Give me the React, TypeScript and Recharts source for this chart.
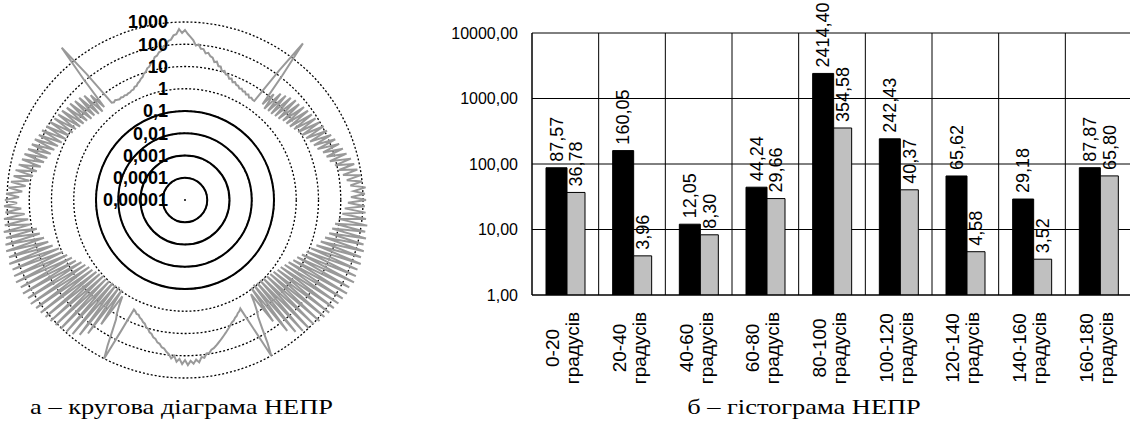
import React from 'react';
import {
  RadarChart, PolarGrid, PolarAngleAxis, PolarRadiusAxis, Radar,
  BarChart, Bar, XAxis, YAxis, CartesianGrid, LabelList,
} from 'recharts';

// НЕПР по колу, одне значення на градус (0° праворуч, далі проти годинникової стрілки)
const nepr: number[] = [
  289, 1230, 394, 1364, 289, 1000, 212, 902, 155, 733,
  114, 596, 83, 485, 55, 356, 45, 289, 36.5, 235,
  24, 191, 19.6, 155, 16, 126, 13, 114, 10.5, 92,
  8.6, 83, 7.0, 75, 5.7, 68, 5.1, 61, 4.6, 50,
  3.7, 50, 3.4, 40.5, 3.0, 33, 3.0, 26.7, 2.7, 16,
  3.4, 126, 6400, 155, 2.7, 2.7, 3.0, 2.7, 3.4, 3.0,
  3.7, 3.4, 4.1, 3.7, 4.6, 4.6, 5.7, 5.1, 7.0, 6.3,
  8.6, 8.6, 11.7, 10.5, 16, 16, 24, 21.7, 33, 36.5,
  50, 45, 68, 68, 103, 92, 155, 212, 289, 437,
  320, 485, 289, 261, 172, 155, 103, 92, 61, 55,
  40.5, 36.5, 24, 21.7, 16, 14.4, 10.5, 9.5, 7.0, 6.3,
  5.1, 4.6, 3.7, 3.7, 3.0, 3.0, 2.7, 2.7, 2.5, 2.7,
  2.5, 2.7, 2.5, 2.7, 3.0, 2.7, 3.0, 155, 6400, 126,
  3.4, 21.7, 2.7, 33, 3.0, 40.5, 3.7, 45, 3.7, 55,
  4.6, 55, 5.1, 68, 5.7, 75, 7.0, 83, 7.7, 103,
  9.5, 114, 10.5, 140, 13, 155, 16, 191, 19.6, 212,
  24, 261, 29.6, 320, 36.5, 356, 45, 437, 61, 537,
  83, 596, 114, 733, 155, 902, 212, 1109, 289, 1230,
  356, 1364, 235, 1230, 172, 1513, 126, 1513, 103, 1862,
  61, 1678, 50, 2065, 36.5, 2290, 26.7, 2065, 19.6, 2540,
  11.7, 2290, 9.5, 2540, 7.0, 2816, 5.1, 2290, 4.1, 2540,
  2.7, 2065, 2.2, 2290, 1.8, 1862, 1.64, 1678, 1.33, 1513,
  1.2, 1364, 1.08, 1230, 1.08, 1109, 0.97, 902, 0.88, 733,
  0.88, 485, 0.79, 261, 0.88, 55, 1.48, 3.7, 8.6, 16,
  55, 261, 1000, 33, 2.7, 3.0, 3.7, 3.7, 4.6, 5.1,
  6.3, 7.0, 9.5, 10.5, 14.4, 16, 21.7, 24, 33, 36.5,
  50, 55, 75, 92, 140, 103, 191, 140, 235, 155,
  261, 172, 235, 155, 212, 126, 140, 92, 92, 68,
  61, 50, 40.5, 33, 26.7, 21.7, 17.7, 14.4, 11.7, 9.5,
  7.7, 7.0, 5.7, 5.1, 4.1, 3.7, 3.0, 33, 1000, 261,
  55, 16, 8.6, 3.7, 1.48, 55, 0.88, 289, 0.79, 537,
  0.88, 813, 0.88, 1000, 0.97, 1109, 1.08, 1364, 1.2, 1513,
  1.33, 1678, 1.64, 1862, 1.8, 2065, 2.2, 2290, 2.7, 2540,
  3.7, 2290, 4.6, 2816, 6.3, 2540, 8.6, 2290, 11.7, 2540,
  17.7, 2065, 24, 2290, 33, 1862, 45, 2065, 55, 1678,
  68, 1862, 92, 1513, 126, 1364, 155, 1230, 212, 1364,
];

// гістограма
const angleRanges = ['0-20', '20-40', '40-60', '60-80', '80-100', '100-120', '120-140', '140-160', '160-180'];
const unit = 'градусів';
const seriesA = [87.57, 160.05, 12.05, 44.24, 2414.40, 242.43, 65.62, 29.18, 87.87];
const seriesB = [36.78, 3.96, 8.30, 29.66, 354.58, 40.37, 4.58, 3.52, 65.80];
const yTicks = [1, 10, 100, 1000, 10000];

const polarData = nepr.map((v, deg) => ({ deg, v }));
const barData = angleRanges.map((range, i) => ({ range, a: seriesA[i], b: seriesB[i] }));

const sans = "'Liberation Sans', Arial, sans-serif";
const serif = "'Liberation Serif', 'Times New Roman', serif";

const comma = (v: number) => String(v).replace('.', ',');
const fmt2 = (v: number) => v.toFixed(2).replace('.', ',');

const RingTick = (props: any) => {
  const { x, y, payload } = props;
  const r = payload.coordinate;
  const v = payload.value;
  return (
    <g>
      {v > 2e-5 && v < 0.5 && (
        <circle cx={x} cy={y + r} r={r} fill="none" stroke="#000" strokeWidth={2} />
      )}
      {v < 2e-5 && <circle cx={x} cy={y + r} r={1} fill="#000" />}
      <text x={x - 17} y={y} dy="0.35em" textAnchor="end" fontFamily={sans} fontSize={18} fontWeight="bold" fill="#000">
        {comma(v)}
      </text>
    </g>
  );
};

const RangeTick = (props: any) => {
  const { x, y, payload } = props;
  return (
    <g transform={`translate(${x},${y + 53}) rotate(-90)`}>
      <text x={0} y={-6} textAnchor="middle" fontFamily={sans} fontSize={19} fill="#000">{payload.value}</text>
      <text x={0} y={14} textAnchor="middle" fontFamily={sans} fontSize={19} fill="#000">{unit}</text>
    </g>
  );
};

const ValueLabel = (props: any) => {
  const { x, y, width, value } = props;
  const cx = x + width / 2;
  const y0 = y - 6;
  return (
    <text x={cx} y={y0} dy="0.35em" transform={`rotate(-90, ${cx}, ${y0})`} textAnchor="start" fontFamily={sans} fontSize={18} fill="#000">
      {fmt2(value)}
    </text>
  );
};

export default function App() {
  return (
    <div style={{ position: 'absolute', left: 0, top: 0, width: 1130, height: 426, overflow: 'hidden', background: '#fff' }}>
      <div style={{ position: 'absolute', left: 0, top: 0 }}>
        <RadarChart
          width={380}
          height={392}
          cx={185}
          cy={200}
          outerRadius={178}
          startAngle={0}
          endAngle={360}
          data={polarData}
          margin={{ top: 0, right: 0, bottom: 0, left: 0 }}
        >
          <PolarGrid gridType="circle" radialLines={false} stroke="#000" strokeWidth={1.3} strokeDasharray="2 2" />
          <PolarAngleAxis dataKey="deg" tick={false} axisLine={false} />
          <Radar dataKey="v" stroke="#999999" strokeWidth={2} fill="none" fillOpacity={0} dot={false} isAnimationActive={false} />
          <PolarRadiusAxis
            angle={90}
            scale="log"
            domain={[0.00001, 1000]}
            allowDataOverflow
            tickCount={8}
            axisLine={false}
            tick={RingTick}
          />
        </RadarChart>
      </div>

      <div style={{ position: 'absolute', left: 440, top: 0 }}>
        <BarChart
          width={692}
          height={426}
          data={barData}
          barGap={0}
          margin={{ top: 33, right: 0, bottom: 0, left: 12 }}
        >
          <CartesianGrid
            stroke="#000"
            verticalCoordinatesGenerator={({ offset }: any) =>
              angleRanges.map((_, i) => offset.left + (offset.width * i) / angleRanges.length).concat([offset.left + offset.width])
            }
          />
          <XAxis
            dataKey="range"
            interval={0}
            height={131}
            tickLine={false}
            tickSize={0}
            tickMargin={0}
            axisLine={{ stroke: '#000' }}
            tick={RangeTick}
          />
          <YAxis
            scale="log"
            domain={[1, 10000]}
            allowDataOverflow
            ticks={yTicks}
            tickFormatter={fmt2}
            width={80}
            tickLine={false}
            tickSize={0}
            tickMargin={14}
            axisLine={{ stroke: '#000' }}
            tick={{ fill: '#000', fontSize: 16, fontFamily: sans }}
          />
          <Bar dataKey="a" fill="#000" stroke="#000" strokeWidth={1} barSize={21} isAnimationActive={false}>
            <LabelList dataKey="a" content={ValueLabel} />
          </Bar>
          <Bar dataKey="b" fill="#c0c0c0" stroke="#000" strokeWidth={1} barSize={18} isAnimationActive={false}>
            <LabelList dataKey="b" content={ValueLabel} />
          </Bar>
        </BarChart>
      </div>

      <div style={{ position: 'absolute', left: 0, width: 363, top: 394, textAlign: 'center', fontFamily: serif, fontSize: 22, lineHeight: '26px', color: '#000', transform: 'scaleX(1.2)' }}>
        а – кругова діаграма НЕПР
      </div>
      <div style={{ position: 'absolute', left: 654, width: 300, top: 394, textAlign: 'center', fontFamily: serif, fontSize: 22, lineHeight: '26px', color: '#000', transform: 'scaleX(1.2)' }}>
        б – гістограма НЕПР
      </div>
    </div>
  );
}
